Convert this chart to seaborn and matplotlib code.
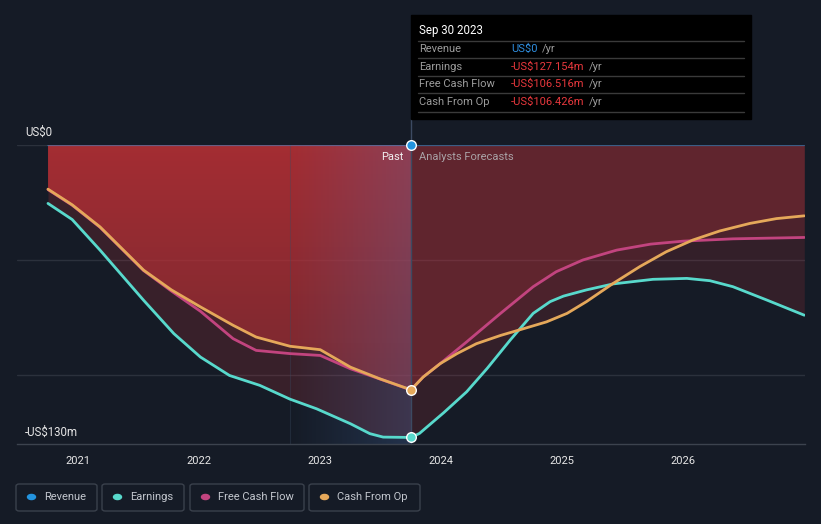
import numpy as np
import pandas as pd
import matplotlib
matplotlib.use("Agg")
import matplotlib.pyplot as plt
import seaborn as sns
from matplotlib.patches import Rectangle, FancyBboxPatch, Circle

# ---------------- data (US$ millions, decimal years) ----------------
earn_years = [2020.75, 2020.95, 2021.18, 2021.54, 2021.79, 2022.01, 2022.25, 2022.5,
              2022.75, 2022.97, 2023.25, 2023.41, 2023.52, 2023.75,
              2023.82, 2024.02, 2024.21, 2024.38, 2024.57, 2024.76, 2024.9, 2025.01,
              2025.2, 2025.42, 2025.75, 2026.03, 2026.22, 2026.41, 2026.69, 2027.0]
earn_values = [-25.4, -32.4, -45.7, -67.5, -82.0, -92.2, -100.2, -104.5,
               -110.5, -114.7, -121.2, -125.5, -127.0, -127.154,
               -125.4, -116.4, -107.3, -97.1, -84.8, -73.2, -68.1, -65.7,
               -63.0, -60.4, -58.4, -58.0, -59.0, -61.6, -67.4, -74.0]

fcf_years = [2020.75, 2020.95, 2021.18, 2021.54, 2021.77, 2022.01, 2022.28, 2022.47,
             2022.75, 2023.0, 2023.25, 2023.49, 2023.75,
             2023.85, 2023.99, 2024.21, 2024.49, 2024.76, 2024.95, 2025.17,
             2025.45, 2025.73, 2026.0, 2026.41, 2027.0]
fcf_values = [-19.4, -26.2, -35.8, -54.6, -63.5, -72.3, -84.2, -89.3,
              -90.7, -91.5, -97.3, -101.7, -106.516,
              -100.9, -95.1, -85.6, -73.2, -61.6, -55.1, -50.0,
              -45.7, -43.1, -41.8, -40.8, -40.2]

cfo_years = [2020.75, 2020.95, 2021.18, 2021.54, 2021.77, 2022.01, 2022.28, 2022.47,
             2022.75, 2023.0, 2023.25, 2023.49, 2023.75,
             2023.85, 2023.99, 2024.13, 2024.29, 2024.49, 2024.71, 2024.87, 2025.04,
             2025.2, 2025.42, 2025.64, 2025.86, 2026.08, 2026.3, 2026.55, 2026.77, 2027.0]
cfo_values = [-19.2, -26.0, -35.6, -54.4, -63.0, -70.4, -78.4, -83.5,
              -87.5, -89.0, -96.6, -101.6, -106.426,
              -100.9, -95.1, -90.7, -86.4, -82.8, -79.4, -76.9, -73.2,
              -68.1, -60.2, -52.9, -46.4, -41.3, -37.4, -34.1, -32.0, -30.8]

revenue_years = [2020.75, 2027.0]
revenue_values = [0.0, 0.0]

x_ticks = [2021, 2022, 2023, 2024, 2025, 2026]
series_names = ["Revenue", "Earnings", "Free Cash Flow", "Cash From Op"]
series_colors = ["#2394df", "#58d9cc", "#c2447f", "#e5a85a"]
tooltip_date = "Sep 30 2023"
tooltip_values = [0.0, -127.154, -106.516, -106.426]
now_year = 2023.75
band_start = 2022.75
y_min, y_max = -130, 0

# ---------------- setup ----------------
W, H = 821, 524
BG = "#151b26"
sns.set_style("dark")
plt.rcParams['font.family'] = ['Roboto', 'DejaVu Sans']

fig = plt.figure(figsize=(W / 100, H / 100), dpi=100, facecolor=BG)
def fx(px): return px / W
def fy(py): return 1 - py / H

ax = fig.add_axes([fx(17), fy(444), (805 - 17) / W, (444 - 145) / H])
ax.set_facecolor(BG)

series = [("Earnings", earn_years, earn_values),
          ("Free Cash Flow", fcf_years, fcf_values),
          ("Cash From Op", cfo_years, cfo_values)]
rows = []
for name, yrs, vals in series:
    for yv, v in zip(yrs, vals):
        rows.append({"year": yv, "value": v, "series": name})
df = pd.DataFrame(rows)
rev_df = pd.DataFrame({"year": revenue_years, "value": revenue_values})

red = "#c8363c"
def split(yrs, vals, past=True):
    yrs = np.array(yrs); vals = np.array(vals)
    m = yrs <= now_year if past else yrs >= now_year
    return yrs[m], vals[m]

# past fills
ex, ev = split(earn_years, earn_values)
fxp, fvp = split(fcf_years, fcf_values)
cx, cv = split(cfo_years, cfo_values)
ax.fill_between(ex, 0, ev, color=red, alpha=0.2, lw=0, zorder=1)
ax.fill_between(fxp, 0, fvp, color=red, alpha=0.10, lw=0, zorder=1)
poly = ax.fill_between(cx, 0, cv, color="none", lw=0, zorder=1)
grad = np.zeros((256, 1, 4))
grad[..., 0], grad[..., 1], grad[..., 2] = 0.74, 0.19, 0.21
grad[:, 0, 3] = np.linspace(0.80, 0.35, 256)
im = ax.imshow(grad, extent=[cx[0], cx[-1], y_min, y_max],
               aspect="auto", origin="upper", zorder=1.2, interpolation="bilinear")
im.set_clip_path(poly.get_paths()[0], transform=ax.transData)

# forecast fills
for name, yrs, vals in series:
    fxx, fvv = split(yrs, vals, past=False)
    ax.fill_between(fxx, 0, fvv, color=red, alpha=0.17, lw=0, zorder=1)

# highlighted last-year band
band = np.zeros((1, 256, 4))
band[..., 0], band[..., 1], band[..., 2] = 0.30, 0.47, 0.74
band[0, :, 3] = np.linspace(0.0, 0.26, 256)
ax.imshow(band, extent=[band_start, now_year, y_min, y_max], aspect="auto",
          zorder=1.5, interpolation="bilinear")
ax.axvline(band_start, color="#3a4a62", lw=0.8, alpha=0.35, zorder=1.6)

# grid
for gy in [0, -50, -100]:
    ax.axhline(gy, color="#2b313c", lw=1, zorder=0.5)

# lines
sns.lineplot(data=rev_df, x="year", y="value", color=series_colors[0], alpha=0.45,
             lw=1.6, ax=ax, zorder=2.5)
sns.lineplot(data=df, x="year", y="value", hue="series", estimator=None, sort=False,
             palette=dict(zip(series_names[1:], series_colors[1:])),
             hue_order=["Earnings", "Free Cash Flow", "Cash From Op"],
             lw=2.0, ax=ax, legend=False, zorder=3)

# now line
ax.axvline(now_year, ymin=0, ymax=1 + 26 / 299, color="#3c4a62", lw=1,
           zorder=2, clip_on=False)

# dots
for v, c in [(tooltip_values[0], series_colors[0]), (tooltip_values[3], series_colors[3]),
             (tooltip_values[1], series_colors[1])]:
    ax.scatter([now_year], [v], s=48, color=c, edgecolor="white", lw=1,
               zorder=5, clip_on=False)

ax.set_xlim(2020.494, 2027.006)
ax.set_ylim(y_min, y_max)
ax.set_xticks(x_ticks)
ax.set_xticklabels([str(t) for t in x_ticks], color="#e6e6e6", fontsize=8)
ax.set_yticks([])
ax.tick_params(axis="x", length=4, color="#4a505a", pad=5)
ax.set_xlabel("")
ax.set_ylabel("")
for s in ["top", "left", "right"]:
    ax.spines[s].set_visible(False)
ax.spines["bottom"].set_color("#3c434e")
ax.spines["bottom"].set_linewidth(1)
ax.grid(False)

# axis value labels
fig.text(fx(25), fy(132), "US$0", color="#e6e6e6", fontsize=8.3, va="center", ha="left")
fig.text(fx(25), fy(432), "-US$130m", color="#e6e6e6", fontsize=8.3, va="center", ha="left")
fig.text(fx(403), fy(156.5), "Past", color="#f0f0f0", fontsize=8, va="center", ha="right")
fig.text(fx(419), fy(156.5), "Analysts Forecasts", color="#a9a2a6", fontsize=8,
         va="center", ha="left")

# tooltip
fig.patches.append(Rectangle((fx(411), fy(119)), 340 / W, 104 / H,
                             transform=fig.transFigure, color="#000000", zorder=10))
for ly in [41, 58.3, 76, 93.3, 111.7]:
    fig.add_artist(plt.Line2D([fx(418), fx(744)], [fy(ly), fy(ly)], color="#3a3a3a",
                              lw=1, transform=fig.transFigure, zorder=11))
fig.text(fx(419), fy(30.5), tooltip_date, color="#ffffff", fontsize=8.3,
         va="center", ha="left", zorder=12)

def fmt(v):
    if v == 0:
        return "US$0"
    return "-US$%.3fm" % abs(v)

renderer = fig.canvas.get_renderer()
row_y = [49.3, 66.7, 84.3, 101.7]
for name, v, ry in zip(series_names, tooltip_values, row_y):
    fig.text(fx(419), fy(ry), name, color="#9c9c9c", fontsize=8, va="center",
             ha="left", zorder=12)
    col = "#2f8fe0" if v == 0 else "#e8383d"
    t = fig.text(fx(511), fy(ry), fmt(v), color=col, fontsize=8, va="center",
                 ha="left", zorder=12)
    bb = t.get_window_extent(renderer)
    fig.text((bb.x1 + 4) / W, fy(ry), "/yr", color="#9c9c9c", fontsize=8,
             va="center", ha="left", zorder=12)

# legend
boxes = [(16, 97), (102, 184), (190, 304), (309, 420)]
for (x0, x1), name, col in zip(boxes, series_names, series_colors):
    fig.patches.append(FancyBboxPatch((fx(x0), fy(511)), (x1 - x0) / W, 27 / H,
                                      boxstyle="round,pad=0,rounding_size=0.004",
                                      transform=fig.transFigure, facecolor="none",
                                      edgecolor="#3a414c", lw=1))
    fig.patches.append(Circle((fx(x0 + 15.5), fy(497)), 4 / W, transform=fig.transFigure,
                              color=col))
    fig.text(fx(x0 + 28), fy(497), name, color="#c3c7ce", fontsize=8, va="center", ha="left")

fig.savefig("out.png", dpi=100, facecolor=BG)
